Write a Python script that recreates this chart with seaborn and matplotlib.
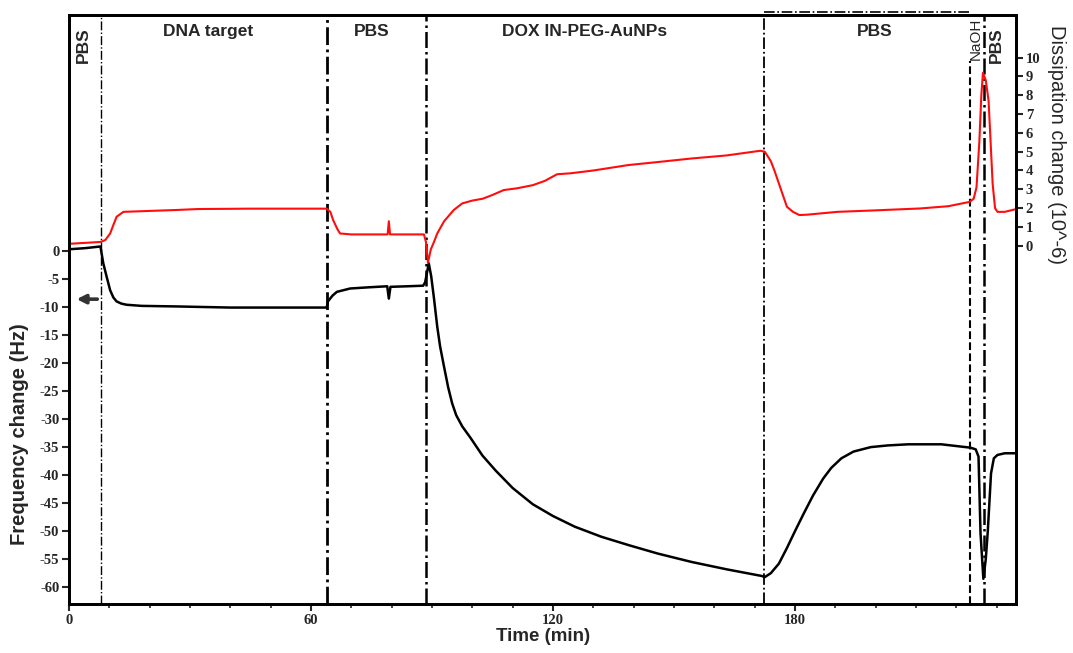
import matplotlib
matplotlib.use("Agg")
import matplotlib.pyplot as plt
from matplotlib.ticker import MultipleLocator
import seaborn as sns
import pandas as pd

# frequency change (Hz), black trace
freq_time = [0, 4, 7.8, 8.5, 9.3, 10.2, 11.0, 11.8, 13, 14.3, 18, 26.7, 40, 55, 63.9,
             64.2, 65.3, 66.4, 69.7, 74, 78.9, 79.3, 79.7, 84, 87.8, 88.3, 89.2, 89.8,
             90.5, 91.3, 92, 93, 94, 95, 96, 97.5, 99.6, 102.5, 105.8, 110, 115, 120,
             125.4, 132, 138.8, 146, 154.4, 163, 171.8, 172.5, 174, 176, 178, 180,
             182.2, 184.5, 187, 189, 191.5, 194.5, 198.8, 203, 208.1, 216.3, 223.5,
             224.8, 225.5, 226, 226.7, 227.3, 227.8, 228.6, 229.3, 230.2, 232, 234.5]
freq_vals = [0.3, 0.5, 0.8, -2.2, -4.5, -7, -8.3, -9.0, -9.4, -9.6, -9.8, -9.9, -10.1,
             -10.1, -10.1, -9.0, -8.0, -7.3, -6.7, -6.5, -6.3, -8.5, -6.4, -6.3, -6.2,
             -5.6, -2.2, -4.5, -8.5, -13.5, -17, -20.7, -24.3, -27.2, -29.3, -31.3,
             -33.4, -36.5, -39.2, -42.3, -45.2, -47.3, -49.2, -51.0, -52.5, -54.0,
             -55.5, -56.8, -58.0, -58.2, -57.5, -55.8, -53.0, -50.0, -46.8, -43.6,
             -40.6, -38.7, -37.0, -35.8, -35.0, -34.7, -34.5, -34.5, -35.1, -35.4,
             -36.7, -50.4, -58.5, -55, -50, -39.7, -37, -36.4, -36.1, -36.1]

# dissipation change (1e-6), red trace
diss_time = [0, 4, 7.8, 9, 10.2, 11.0, 11.8, 13.5, 20, 26.7, 32, 45, 63.9, 64.8, 65.5,
             66.5, 67.2, 70, 79.0, 79.3, 79.6, 84, 88, 88.5, 89, 89.7, 90.5, 91.3, 93,
             95.4, 97.5, 100, 102.6, 105, 107.8, 111, 115, 118, 121, 124.3, 130, 138.7,
             146, 154.4, 163, 171.4, 172.5, 174, 174.9, 176.5, 178, 179.5, 181.1, 183,
             190.5, 200, 211, 218, 223.3, 224.3, 225, 225.7, 226.2, 226.6, 227.3, 228,
             228.5, 229, 229.6, 230.2, 232, 234.5]
diss_vals = [0.1, 0.15, 0.2, 0.3, 0.65, 1.1, 1.54, 1.8, 1.85, 1.9, 1.95, 1.97, 1.97,
             1.8, 1.36, 0.9, 0.65, 0.6, 0.6, 1.3, 0.6, 0.6, 0.6, 0.2, -0.9, -0.2, 0.2,
             0.65, 1.3, 1.9, 2.25, 2.4, 2.5, 2.7, 2.96, 3.05, 3.22, 3.45, 3.8, 3.85, 4.0,
             4.29, 4.45, 4.64, 4.8, 5.05, 5.0, 4.5, 4.0, 3.0, 2.07, 1.8, 1.63, 1.65, 1.8,
             1.88, 1.98, 2.1, 2.33, 2.5, 3.1, 5.5, 8.0, 9.2, 8.8, 7.7, 5.5, 3.3, 2.0,
             1.8, 1.8, 1.93]

# injection boundaries (min) and segment labels
boundaries = [7.9, 64.0, 88.5, 172.2, 223.3, 226.8]
segment_labels = ["PBS", "DNA target", "PBS", "DOX IN-PEG-AuNPs", "PBS", "NaOH", "PBS"]
segment_centers = [3.5, 34.4, 75.1, 127.9, 199.8, 224.8, 230.0]

sns.set_style("white")
plt.rcParams["font.family"] = ["Liberation Sans", "DejaVu Sans"]
plt.rcParams["axes.unicode_minus"] = False

fig = plt.figure(figsize=(10.73, 6.53), dpi=100)
ax = fig.add_axes([0.0643, 0.075, 0.8826, 0.902])
ax2 = ax.twinx()

df_f = pd.DataFrame({"t": freq_time, "f": freq_vals})
df_d = pd.DataFrame({"t": diss_time, "d": diss_vals})
sns.lineplot(data=df_f, x="t", y="f", ax=ax, color="black", lw=1.8,
             sort=False, estimator=None)
sns.lineplot(data=df_d, x="t", y="d", ax=ax2, color="#ff0d0d", lw=1.5,
             sort=False, estimator=None)

ax.set_xlim(0, 234.8)
ax.set_ylim(-63, 42.1)
ax2.set_ylim(-19.06, 12.27)

# boundary lines
styles = [("-.", 1.0), ("-.", 2.0), ("-.", 1.8), ("-.", 1.3), ("--", 1.5), ("-.", 1.8)]
for b, (ls, lw) in zip(boundaries, styles):
    ax.axvline(b, color="black", ls=ls, lw=lw, zorder=1)
ax.plot([172.2, 223.3], [42.55, 42.55], color="black", ls="-.", lw=1.2, clip_on=False)

# segment labels
for lab, c in zip(segment_labels, segment_centers):
    if lab == "NaOH":
        ax.text(c, 41.6, lab, rotation=90, ha="center", va="top", fontsize=11,
                bbox=dict(facecolor="white", edgecolor="none", pad=0.5))
    elif c in (3.5, 230.0):
        ax.text(c, 39.9, lab, rotation=90, ha="center", va="top", fontsize=12.5,
                fontweight="bold")
    else:
        ax.text(c, 39.2, lab, ha="center", va="center", fontsize=12.5, fontweight="bold")

# arrow pointing to the frequency axis
ax.annotate("", xy=(1.2, -8.6), xytext=(7.7, -8.6),
            arrowprops=dict(arrowstyle="-|>", color="#333333", lw=2.6,
                            mutation_scale=13))

tick_font = dict(family="Liberation Serif", weight="bold", size=10.5)

ax.set_xticks([0, 60, 120, 180])
ax.xaxis.set_minor_locator(MultipleLocator(10))
ax.set_xticklabels(["0", "60", "120", "180"], fontdict=tick_font)
yt = list(range(-60, 1, 5))
ax.set_yticks(yt)
ax.set_yticklabels([str(v) for v in yt], fontdict=tick_font)
dt = list(range(0, 11))
ax2.set_yticks(dt)
ax2.set_yticklabels([str(v) for v in dt], fontdict=tick_font)

ax.tick_params(axis="both", which="major", direction="out", length=5, width=1.5,
               pad=2, bottom=True, left=True)
ax.tick_params(axis="x", which="minor", direction="out", length=3, width=1.2, bottom=True)
ax2.tick_params(axis="y", direction="out", length=5, width=1.5, pad=2, right=True)

for a in (ax, ax2):
    for s in a.spines.values():
        s.set_color("black")
        s.set_linewidth(2)

ax.set_xlabel("")
ax.set_ylabel("")
ax2.set_ylabel("")
fig.text(0.0186, 0.335, "Frequency change (Hz)", rotation=90, ha="center", va="center",
         fontsize=14.5, fontweight="bold")
fig.text(0.985, 0.778, "Dissipation change (10^-6)", rotation=270, ha="center",
         va="center", fontsize=14.5)
fig.text(0.506, 0.026, "Time (min)", ha="center", va="center", fontsize=13.5,
         fontweight="bold", family=["Liberation Sans Narrow", "Liberation Sans"])

fig.savefig("out.png", dpi=100)
